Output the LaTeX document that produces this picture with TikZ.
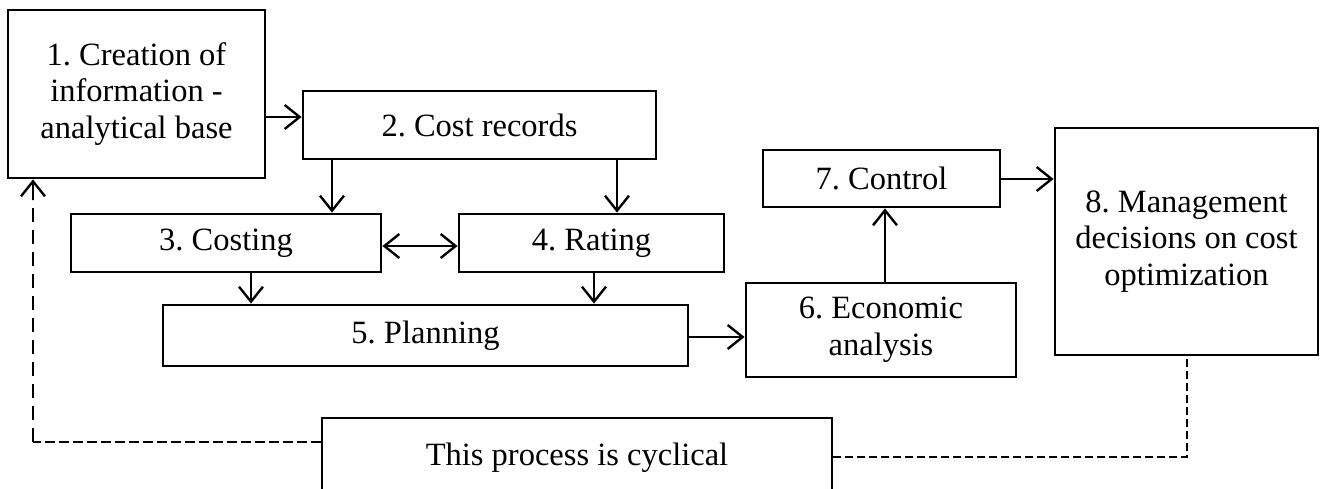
\documentclass[tikz,border=0pt]{standalone}
\usepackage{fontspec}
\setmainfont{Liberation Serif}
\usetikzlibrary{arrows.meta,calc}
\frenchspacing
\begin{document}
\begin{tikzpicture}[x=1pt,y=-1pt,
  box/.style={draw=black,line width=2.8pt,inner sep=0pt,align=center,
    font=\fontsize{32.5}{36.7}\selectfont},
  tip/.style={Straight Barb[length=15pt,width=24pt,line width=2.4pt]},
  arr/.style={line width=2.4pt,-{Straight Barb[length=15pt,width=24pt,line width=2.4pt]}},
  dbl/.style={line width=2.4pt,{Straight Barb[length=15pt,width=24pt,line width=2.4pt]}-{Straight Barb[length=15pt,width=24pt,line width=2.4pt]}},
  dashthick/.style={line width=2.6pt,dash pattern=on 14pt off 8pt},
  dashthin/.style={line width=1.8pt,dash pattern=on 10pt off 4pt},
  dashright/.style={line width=1.5pt,dash pattern=on 8pt off 4pt}]
\useasboundingbox (0,0) rectangle (1322,488);
\clip (0,0) rectangle (1322,488);
\fill[white] (0,0) rectangle (1322,488);

\node[box,minimum width=257pt,minimum height=168pt] (b1) at (136.5,94) {1. Creation of\\information -\\analytical base};
\node[box,minimum width=353pt,minimum height=68pt] (b2) at (479.5,125) {2. Cost records};
\node[box,minimum width=310pt,minimum height=58pt] (b3) at (226,243) {3. Costing};
\node[box,minimum width=265pt,minimum height=58pt] (b4) at (591.5,243) {4. Rating};
\node[box,minimum width=525pt,minimum height=61pt] (b5) at (425.5,335.5) {5. Planning};
\node[box,minimum width=270pt,minimum height=94pt] (b6) at (881,330) {6. Economic\\analysis};
\node[box,minimum width=237pt,minimum height=57pt] (b7) at (881.5,178.5) {7. Control};
\node[box,minimum width=263pt,minimum height=227pt] (b8) at (1186.5,241.5) {8. Management\\decisions on cost\\optimization};
\node[box,minimum width=510pt,minimum height=80pt] (b9) at (577,458) {This process is cyclical};

\coordinate (cl) at (33,442);
\coordinate (cr) at (1187,457);

\draw[arr] (b1.east |- 0,117) -- (b2.west |- 0,117);
\draw[arr] (b2.south -| 332,0) -- (b3.north -| 332,0);
\draw[arr] (b2.south -| 617,0) -- (b4.north -| 617,0);
\draw[dbl] (b3.east |- 0,246) -- (b4.west |- 0,246);
\draw[arr] (b3.south -| 251,0) -- (b5.north -| 251,0);
\draw[arr] (b4.south -| 594,0) -- (b5.north -| 594,0);
\draw[arr] (b5.east |- 0,337) -- (b6.west |- 0,337);
\draw[arr] (b6.north -| 885,0) -- (b7.south -| 885,0);
\draw[arr] (b7.east |- 0,179) -- (b8.west |- 0,179);

\draw[dashthin] (b9.west |- cl) -- (cl);
\draw[dashthick] (cl) -- (cl |- 0,200);
\draw[arr] (cl |- 0,200) -- (b1.south -| cl);
\draw[dashright] (b9.east |- cr) -- (cr) -- (b8.south -| cr);
\end{tikzpicture}
\end{document}
